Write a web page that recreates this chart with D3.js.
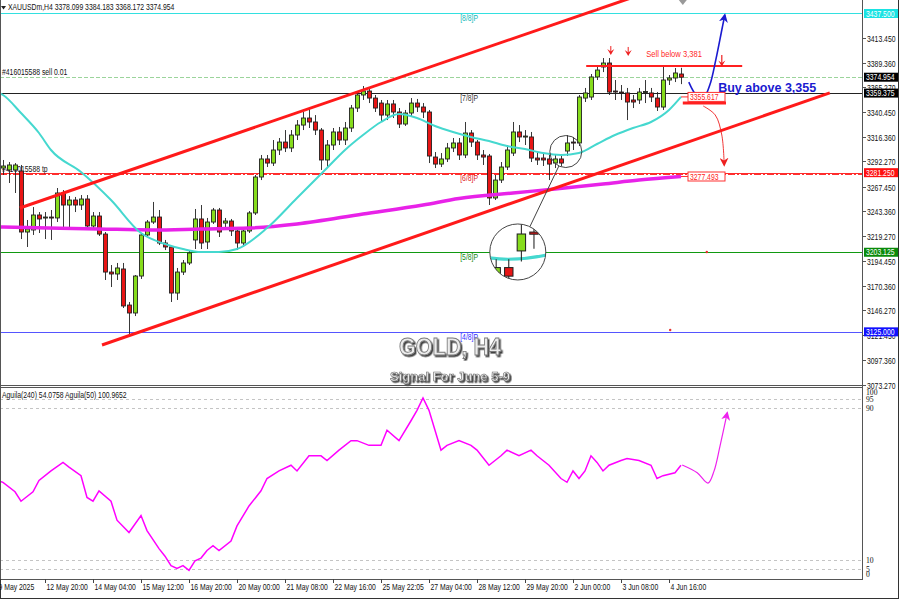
<!DOCTYPE html>
<html><head><meta charset="utf-8">
<script src="https://cdn.jsdelivr.net/npm/d3@7/dist/d3.min.js"></script>
<style>
html,body{margin:0;padding:0;background:#fff;}
svg{display:block;font-family:"Liberation Sans",Arial,sans-serif;}
</style></head><body>
<svg id="c" width="900" height="600"></svg>
<script>
// ---------------- DATA ----------------
const headerText = "XAUUSDm,H4  3378.099 3384.183 3368.172 3374.954";
const orderText = "#416015588 sell 0.01";
const tpText = "#416015588 tp";
const oscText = "Aguila(240) 54.0758  Aguila(50) 100.9652";
const titleText = "GOLD, H4";
const subtitleText = "Signal For June 5-9";
const sellText = "Sell below 3,381";
const buyText = "Buy above 3,355";

const barOpen = [3285.8,3283.9,3283.9,3282.9,3223.0,3225.0,3239.7,3236.8,3237.7,3236.8,3261.3,3249.5,3254.4,3249.5,3255.4,3228.9,3238.7,3221.0,3183.7,3181.8,3186.7,3151.3,3143.5,3179.8,3220.1,3232.8,3237.7,3212.2,3208.3,3163.1,3183.7,3192.6,3215.2,3235.8,3213.2,3232.8,3244.6,3231.8,3233.8,3224.0,3212.2,3224.0,3241.7,3277.0,3294.7,3290.7,3303.5,3311.3,3305.5,3318.2,3328.0,3334.9,3331.0,3323.1,3293.7,3308.4,3321.2,3313.3,3325.1,3344.7,3357.5,3361.4,3354.5,3349.6,3337.8,3348.7,3340.8,3329.0,3339.8,3349.6,3345.7,3340.8,3296.6,3289.7,3294.7,3305.5,3310.4,3298.6,3320.2,3311.3,3298.6,3297.6,3256.4,3274.0,3286.8,3300.5,3321.2,3316.3,3316.3,3295.6,3295.6,3294.7,3290.7,3294.7,3302.5,3311.3,3310.4,3354.5,3355.5,3375.2,3385.0,3388.9,3361.4,3360.4,3359.5,3352.6,3352.6,3360.4,3359.5,3354.5,3345.7,3372.2,3374.2,3378.099];
const barHigh = [3293.7,3291.7,3290.7,3288.8,3234.8,3247.5,3242.6,3242.6,3244.6,3266.2,3264.2,3258.3,3257.4,3259.3,3259.3,3242.6,3242.6,3223.0,3190.6,3192.6,3192.6,3154.3,3180.8,3222.0,3234.8,3252.5,3244.6,3215.2,3210.2,3187.7,3195.5,3205.3,3245.6,3249.5,3236.8,3246.6,3246.6,3236.8,3235.8,3226.0,3226.9,3243.6,3279.0,3298.6,3298.6,3313.3,3315.3,3323.1,3323.1,3332.9,3340.8,3344.7,3337.8,3325.1,3313.3,3325.1,3326.1,3331.0,3347.7,3360.4,3366.3,3364.4,3357.5,3352.6,3352.6,3352.6,3344.7,3342.8,3354.5,3353.6,3349.6,3342.8,3301.5,3300.5,3310.4,3315.3,3315.3,3331.0,3323.1,3313.3,3303.5,3299.6,3279.0,3291.7,3308.4,3331.0,3328.0,3323.1,3321.2,3301.5,3299.6,3299.6,3298.6,3298.6,3318.2,3316.3,3357.5,3364.4,3378.1,3386.0,3393.8,3393.8,3372.2,3367.3,3364.4,3357.5,3364.4,3372.2,3364.4,3360.4,3386.0,3377.1,3384.0,3384.183];
const barLow = [3279.0,3271.1,3261.3,3216.1,3208.3,3220.1,3222.0,3216.1,3215.2,3232.8,3226.0,3226.0,3242.6,3244.6,3226.9,3226.0,3219.1,3175.9,3169.0,3175.9,3148.4,3121.9,3140.5,3176.9,3218.1,3230.9,3210.2,3205.3,3154.3,3156.3,3180.8,3190.6,3206.3,3206.3,3206.3,3230.9,3218.1,3226.9,3219.1,3205.3,3208.3,3222.0,3239.7,3274.0,3286.8,3287.8,3298.6,3301.5,3301.5,3313.3,3323.1,3325.1,3318.2,3283.9,3285.8,3303.5,3308.4,3308.4,3321.2,3340.8,3352.6,3349.6,3340.8,3331.0,3332.9,3334.9,3325.1,3327.1,3336.9,3340.8,3334.9,3290.7,3285.8,3286.8,3291.7,3301.5,3293.7,3295.6,3306.5,3293.7,3288.8,3249.5,3254.4,3271.1,3283.9,3297.6,3311.3,3308.4,3291.7,3288.8,3287.8,3274.0,3285.8,3287.8,3297.6,3303.5,3307.4,3350.6,3352.6,3372.2,3380.0,3357.5,3352.6,3352.6,3332.9,3344.7,3348.7,3349.6,3350.6,3341.8,3342.8,3367.3,3370.2,3368.172];
const barClose = [3287.8,3288.8,3288.8,3223.0,3226.0,3239.7,3235.8,3237.7,3236.8,3261.3,3249.5,3254.4,3249.5,3255.4,3228.9,3238.7,3221.0,3183.7,3181.8,3187.7,3150.4,3143.5,3179.8,3220.1,3232.8,3237.7,3212.2,3208.3,3163.1,3183.7,3192.6,3202.4,3235.8,3212.2,3232.8,3244.6,3223.0,3233.8,3224.0,3212.2,3224.0,3241.7,3277.0,3294.7,3290.7,3303.5,3311.3,3305.5,3318.2,3328.0,3334.9,3331.0,3323.1,3293.7,3308.4,3321.2,3313.3,3325.1,3344.7,3357.5,3361.4,3354.5,3344.7,3337.8,3348.7,3340.8,3329.0,3339.8,3349.6,3345.7,3340.8,3297.6,3289.7,3294.7,3305.5,3310.4,3298.6,3320.2,3311.3,3298.6,3296.6,3256.4,3274.0,3286.8,3303.5,3321.2,3316.3,3317.2,3295.6,3293.7,3293.7,3289.7,3294.7,3290.7,3310.4,3310.4,3355.5,3359.5,3375.2,3382.0,3388.9,3360.4,3360.4,3359.5,3350.6,3350.6,3360.4,3360.9,3355.5,3345.7,3372.2,3374.2,3379.1,3374.954];

const timeTickBars = [-1,7,15,23,31,39,47,55,63,71,79,87,95,103,111];
const timeTickLabels = ["9 May 2025","12 May 20:00","14 May 04:00","15 May 12:00","16 May 20:00","20 May 00:00","21 May 08:00","22 May 16:00","25 May 22:05","27 May 04:00","28 May 12:00","29 May 20:00","2 Jun 00:00","3 Jun 08:00","4 Jun 16:00"];
const priceTicks = [3413.45,3389.36,3365.27,3340.45,3316.36,3292.27,3267.45,3243.36,3219.27,3194.45,3170.36,3146.27,3121.45,3097.36,3073.27];

const levelPrices = [3437.5,3359.375,3281.25,3203.125,3125.0];
const levelNames = ["[8/8]P","[7/8]P","[6/8]P","[5/8]P","[4/8]P"];
const markedPrices = [3437.5,3374.954,3359.375,3281.25,3203.125,3125.0];
const orderPrice = 3374.954;
const tpPrice = 3280.0;

const maFastBars =   [-1,0,3,6,8,13,18,23,27,30,33,36,39,44,49,54,57,60,63,66,69,72,75,78,81,84,87,90,93,96,99,102,105,108,111,113];
const maFastValues = [3360.4,3357.5,3339.8,3320.2,3303.5,3281.9,3254.4,3222.0,3211.2,3206.3,3203.4,3203.4,3206.3,3226.9,3256.4,3285.8,3303.5,3318.2,3331.0,3338.8,3334.9,3327.1,3321.2,3316.3,3312.3,3307.4,3304.5,3300.5,3298.6,3300.5,3309.4,3318.2,3325.1,3331.0,3342.8,3355.617];
const maSlowBars =   [-1,0,16,25,33,41,49,60,70,76,85,92,100,106,113];
const maSlowValues = [3228.0,3227.9,3226.0,3225.0,3226.0,3226.9,3230.9,3240.7,3249.5,3255.9,3261.3,3265.2,3270.1,3274.0,3277.493];

const channelUpper = [[2.8,3246.6],[108,3459.5]];
const channelLower = [[16.5,3112.1],[137.8,3359.5]];

const oscBars =   [-1,0,2,3,5,6,8,10,11,13,14,15,16,18,19,21,23,24,26,27,28,29,30,31,32,33,34,35,36,38,39,41,43,44,46,48,49,51,53,54,56,58,59,61,63,64,66,68,69,70,71,73,74,76,78,79,81,83,84,86,88,89,91,93,94,95,96,97,98,99,100,101,103,104,106,108,109,110,112,113];
const oscValues = [52,51,46,41,46,52,57,61.5,59,54.5,43,41,46.5,41,31,24.5,33.5,25.5,16,12,7,5.5,7,4.5,9.5,11,15,17.5,15,20,28,38.5,46.5,53,57,60,57,65,65,62.5,68,73,73,70.5,70.5,78.5,73,83.5,89,95.5,89,68,70.5,73,70.5,68,60,65,68,65,68,65,60,53,51,57,53,57,65,61.5,57,60,62.5,63.5,62.5,60,53,54.5,56,60];
const oscLevels = [95,90,10,5];
const oscLabelValues = [100,95,90,10,5,0];

// hand-drawn annotation paths (bar index, price / osc value)
const buyArrow = [[114.3,3370.2],[115.7,3356.5],[116.8,3355.5],[117.8,3367.3],[118.8,3391.9],[119.8,3421.3],[120.3,3436.0]];
const sellArrow = [[116.7,3346.7],[118.7,3337.9],[119.8,3318.2],[120.2,3288.8]];
const oscArrow = [[113.2,60.1],[115.7,56.0],[117.5,50.6],[118.5,56.9],[119.5,70.1],[120.7,87.6]];
const sellLine = [[97.2,3386.0],[123.2,3386.0]];
const supportLine = [[113.3,3349.6],[120.5,3349.6]];
const downMarks = [[101.3,3397.7],[104.2,3396.8]];
const stemMark = [[119.8,3396.8],[119.8,3386.5]];
const tradeMarks = [[111.2,3126.8],[117.3,3203.4]];

// ---------------- SCALES ----------------
const svg = d3.select("#c");
const plotR = 862, mainB = 386, indT = 388, indB = 579;
const x = d3.scaleLinear().domain([0,113]).range([3,681]);
const y = d3.scaleLinear().domain([3071.84,3450.75]).range([mainB,0]);
const yi = d3.scaleLinear().domain([0,100]).range([578.9,389.5]);

const defs = svg.append("defs");
defs.append("clipPath").attr("id","clipMain").append("rect").attr("x",0).attr("y",0).attr("width",plotR).attr("height",mainB);
defs.append("clipPath").attr("id","clipInd").append("rect").attr("x",0).attr("y",indT).attr("width",plotR).attr("height",indB-indT);
const f = defs.append("filter").attr("id","shadow").attr("x","-10%").attr("y","-20%").attr("width","130%").attr("height","160%");
f.append("feDropShadow").attr("dx",1.6).attr("dy",1.6).attr("stdDeviation",0.7).attr("flood-color","#222").attr("flood-opacity",0.85);
function marker(id,color){
  defs.append("marker").attr("id",id).attr("viewBox","0 0 10 10").attr("refX",8).attr("refY",5)
    .attr("markerWidth",9).attr("markerHeight",9).attr("markerUnits","userSpaceOnUse").attr("orient","auto")
    .append("path").attr("d","M0,0 L10,5 L0,10 L3,5 Z").attr("fill",color);
}
marker("ahBlue","#1a1ad0"); marker("ahRed","#ee2020"); marker("ahMag","#ee22ee");

function stext(g, px, py, str, o={}){
  return g.append("text").attr("transform",`translate(${px},${py}) scale(${o.sx||0.76},1)`)
    .attr("font-size",o.size||9).attr("fill",o.fill||"#111").attr("font-weight",o.weight||"normal")
    .attr("text-anchor",o.anchor||"start").attr("font-family",o.family||null).text(str);
}

svg.append("rect").attr("width",900).attr("height",600).attr("fill","#fff");

// ---------------- MAIN PANEL ----------------
const main = svg.append("g").attr("clip-path","url(#clipMain)");
const levelColors = ["#33e0e0","#222","#ff2a2a","#119911","#5555ff"];
const levelTextColors = ["#10b8b8","#333","#e02020","#118811","#3030ff"];
levelPrices.forEach((p,i)=>{
  main.append("line").attr("x1",0).attr("x2",plotR).attr("y1",Math.round(y(p))+0.5).attr("y2",Math.round(y(p))+0.5)
    .attr("stroke",levelColors[i]).attr("stroke-width",1);
  stext(main, x(76.2), Math.round(y(p))+8, levelNames[i], {fill:levelTextColors[i], size:9});
});
// order line & tp line
main.append("line").attr("x1",0).attr("x2",plotR).attr("y1",Math.round(y(orderPrice))+0.5).attr("y2",Math.round(y(orderPrice))+0.5)
  .attr("stroke","#9bd49b").attr("stroke-dasharray","4,2");
main.append("line").attr("x1",0).attr("x2",plotR).attr("y1",Math.round(y(tpPrice))+0.5).attr("y2",Math.round(y(tpPrice))+0.5)
  .attr("stroke","#ff3030").attr("stroke-dasharray","7,2,2,2");
stext(main, 2, Math.round(y(orderPrice))-2, orderText, {size:9});
stext(main, 2, Math.round(y(tpPrice))-2, tpText, {size:9});

// candles
function drawCandles(g, idx, sw){
  idx.forEach(i=>{
    const up = barClose[i] >= barOpen[i];
    const cx = Math.round(x(i))+0.5;
    g.append("line").attr("x1",cx).attr("x2",cx).attr("y1",y(barHigh[i])).attr("y2",y(barLow[i]))
      .attr("stroke","#222").attr("stroke-width",sw);
    const top = y(Math.max(barOpen[i],barClose[i])), bot = y(Math.min(barOpen[i],barClose[i]));
    g.append("rect").attr("x",cx-2).attr("width",4).attr("y",top).attr("height",Math.max(1,bot-top))
      .attr("fill", up ? "#86dc1c" : "#e81515").attr("stroke","#222").attr("stroke-width",sw);
  });
}
const allIdx = d3.range(barOpen.length);
drawCandles(main, allIdx, 0.9);

// moving averages
const lineGen = d3.line().x(d=>x(d[0])).y(d=>y(d[1])).curve(d3.curveMonotoneX);
const fastPts = maFastBars.map((b,i)=>[b,maFastValues[i]]);
const slowPts = maSlowBars.map((b,i)=>[b,maSlowValues[i]]);
main.append("path").attr("d",lineGen(slowPts)).attr("fill","none").attr("stroke","#e822e8").attr("stroke-width",3.5);
main.append("path").attr("d",lineGen(fastPts)).attr("fill","none").attr("stroke","#45d8cf").attr("stroke-width",2);

// channel
const straight = d3.line().x(d=>x(d[0])).y(d=>y(d[1]));
main.append("path").attr("d",straight(channelUpper)).attr("stroke","#ff1a1a").attr("stroke-width",3).attr("fill","none");
main.append("path").attr("d",straight(channelLower)).attr("stroke","#ff1a1a").attr("stroke-width",3).attr("fill","none");

// annotations
main.append("path").attr("d",straight(sellLine)).attr("stroke","#ff2020").attr("stroke-width",2).attr("fill","none");
main.append("path").attr("d",straight(supportLine)).attr("stroke","#ff2020").attr("stroke-width",3).attr("fill","none");
stext(main, x(107.2), y(3386.0)-9, sellText, {fill:"#ff2a2a", size:9.5, sx:0.8});
stext(main, x(119.2), Math.round(y(3359.375))-1, buyText, {fill:"#1a1ad0", size:12.5, weight:"bold", sx:1});
const curve = d3.line().x(d=>x(d[0])).y(d=>y(d[1])).curve(d3.curveCatmullRom);
main.append("path").attr("d",curve(buyArrow)).attr("fill","none").attr("stroke","#1a1ad0").attr("stroke-width",1.6).attr("marker-end","url(#ahBlue)");
main.append("path").attr("d",curve(sellArrow)).attr("fill","none").attr("stroke","#ee2020").attr("stroke-width",0.9).attr("marker-end","url(#ahRed)");
downMarks.forEach(d=>{
  const cx=x(d[0]), cy=y(d[1]);
  main.append("path").attr("d",`M${cx-3.5},${cy-5} L${cx},${cy+1} L${cx+3.5},${cy-5} L${cx},${cy-2.5} Z`).attr("fill","#ee2020");
  main.append("line").attr("x1",cx).attr("x2",cx).attr("y1",cy-8).attr("y2",cy-2).attr("stroke","#ee2020").attr("stroke-width",1);
});
{
  const cx=x(stemMark[0][0]), y1=y(stemMark[0][1]), y2=y(stemMark[1][1]);
  main.append("line").attr("x1",cx).attr("x2",cx).attr("y1",y1).attr("y2",y2).attr("stroke","#ee2020").attr("stroke-width",1.2);
  main.append("path").attr("d",`M${cx-3.5},${y2-5} L${cx},${y2+1} L${cx+3.5},${y2-5} L${cx},${y2-2.5} Z`).attr("fill","#ee2020");
}
tradeMarks.forEach(d=>{
  main.append("circle").attr("cx",x(d[0])).attr("cy",y(d[1])).attr("r",1.2).attr("fill","#e83030");
});
// MA value boxes
function valueBox(bar, price){
  const bx = x(bar)+7, by = y(price);
  main.append("line").attr("x1",x(bar)).attr("x2",bx).attr("y1",by).attr("y2",by).attr("stroke","#ff3030");
  main.append("rect").attr("x",bx).attr("y",by-4.5).attr("width",37).attr("height",9).attr("fill","#fff").attr("stroke","#ff3030");
  stext(main, bx+2, by+3.2, price.toFixed(3), {fill:"#ff2020", size:9});
}
valueBox(113, maFastValues[maFastValues.length-1]);
valueBox(113, maSlowValues[maSlowValues.length-1]);

// magnifier
const smallC = [93.8, 3302.0], bigC = [85.8, 3203.4], zoomK = 2.1, rSmall = 16, rBig = 28;
const sx0 = x(smallC[0]), sy0 = y(smallC[1]), bx0 = x(bigC[0]), by0 = y(bigC[1]);
main.append("circle").attr("cx",sx0).attr("cy",sy0).attr("r",rSmall).attr("fill","none").attr("stroke","#444").attr("stroke-width",1);
{
  const dx = bx0-sx0, dy = by0-sy0, L = Math.hypot(dx,dy);
  main.append("line").attr("x1",sx0+dx/L*rSmall).attr("y1",sy0+dy/L*rSmall).attr("x2",bx0-dx/L*rBig).attr("y2",by0-dy/L*rBig)
    .attr("stroke","#444").attr("stroke-width",1);
}
defs.append("clipPath").attr("id","clipMag").append("circle").attr("cx",bx0).attr("cy",by0).attr("r",rBig);
main.append("circle").attr("cx",bx0).attr("cy",by0).attr("r",rBig).attr("fill","#fff");
const mag = main.append("g").attr("clip-path","url(#clipMag)")
  .append("g").attr("transform",`translate(${bx0},${by0}) scale(${zoomK}) translate(${-sx0},${-sy0})`);
mag.append("path").attr("d",lineGen(fastPts)).attr("fill","none").attr("stroke","#45d8cf").attr("stroke-width",1.5);
drawCandles(mag, d3.range(89,98), 0.5);
main.append("circle").attr("cx",bx0).attr("cy",by0).attr("r",rBig).attr("fill","none").attr("stroke","#444").attr("stroke-width",1);

// title
svg.append("text").attr("transform","translate(450,355) scale(0.9,1)").attr("text-anchor","middle")
  .attr("font-size",24).attr("font-weight","bold").attr("fill","#ececec").attr("stroke","#7a7a7a").attr("stroke-width",0.9)
  .attr("filter","url(#shadow)").attr("font-family","Liberation Sans, Arial, sans-serif").text(titleText);
svg.append("text").attr("transform","translate(450,381)").attr("text-anchor","middle")
  .attr("font-size",13).attr("font-weight","bold").attr("fill","#ededed").attr("stroke","#6a6a6a").attr("stroke-width",0.6)
  .attr("filter","url(#shadow)").text(subtitleText);

// header
svg.append("path").attr("d","M1,6 L6,6 L3.5,9.5 Z").attr("fill","#222");
stext(svg, 8, 10, headerText, {size:9});
// chart shift marker
svg.append("path").attr("d",`M${x(113.3)-4},0 L${x(113.3)+4},0 L${x(113.3)},5 Z`).attr("fill","#999");

// ---------------- INDICATOR PANEL ----------------
const ind = svg.append("g").attr("clip-path","url(#clipInd)");
oscLevels.forEach(v=>{
  ind.append("line").attr("x1",0).attr("x2",plotR).attr("y1",Math.round(yi(v))+0.5).attr("y2",Math.round(yi(v))+0.5)
    .attr("stroke","#c4c4c4").attr("stroke-dasharray","3,3");
});
const oscLine = d3.line().x(d=>x(d[0])).y(d=>yi(d[1]));
ind.append("path").attr("d",oscLine(oscBars.map((b,i)=>[b,oscValues[i]]))).attr("fill","none").attr("stroke","#ff00ff").attr("stroke-width",1.5);
ind.append("path").attr("d",oscLine.curve(d3.curveCatmullRom)(oscArrow)).attr("fill","none").attr("stroke","#ee22ee").attr("stroke-width",1.2).attr("marker-end","url(#ahMag)");
stext(svg, 2, 398, oscText, {size:9});
oscLabelValues.forEach(v=>{
  const py = Math.max(395, Math.min(577, yi(v)+3));
  stext(svg, 866, py, String(v), {size:9, family:"Liberation Serif, serif", sx:0.85});
});

// ---------------- AXES & FRAMES ----------------
svg.append("line").attr("x1",plotR+0.5).attr("x2",plotR+0.5).attr("y1",0).attr("y2",indB).attr("stroke","#555");
svg.append("line").attr("x1",0).attr("x2",plotR).attr("y1",mainB-0.5).attr("y2",mainB-0.5).attr("stroke","#555");
svg.append("line").attr("x1",0).attr("x2",plotR).attr("y1",indT-0.5).attr("y2",indT-0.5).attr("stroke","#555");
svg.append("line").attr("x1",0).attr("x2",plotR+1).attr("y1",indB+0.5).attr("y2",indB+0.5).attr("stroke","#555");
svg.append("line").attr("x1",0.5).attr("x2",0.5).attr("y1",0).attr("y2",indB).attr("stroke","#555");
// outer frame
svg.append("line").attr("x1",898.5).attr("x2",898.5).attr("y1",0).attr("y2",599).attr("stroke","#333");
svg.append("line").attr("x1",0).attr("x2",899).attr("y1",598.5).attr("y2",598.5).attr("stroke","#333");
svg.append("line").attr("x1",0.5).attr("x2",0.5).attr("y1",indB).attr("y2",599).attr("stroke","#333");

// price ticks
priceTicks.forEach(p=>{
  const py = Math.round(y(p))+0.5;
  svg.append("line").attr("x1",plotR).attr("x2",plotR+4).attr("y1",py).attr("y2",py).attr("stroke","#555");
  stext(svg, 867, py+3, p.toFixed(3), {size:9});
});
const boxFills = ["#19e3e3","#000","#000","#ff1010","#0a8a0a","#1010ff"];
markedPrices.forEach((p,i)=>{
  const py = y(p);
  svg.append("rect").attr("x",plotR+2).attr("y",py-4.5).attr("width",34).attr("height",9).attr("fill",boxFills[i]);
  stext(svg, 866, py+3.2, p.toFixed(3), {size:9, fill:"#fff"});
});
// time ticks
timeTickBars.forEach((b,i)=>{
  const px = Math.round(x(b))+0.5;
  svg.append("line").attr("x1",px).attr("x2",px).attr("y1",indB).attr("y2",indB+4).attr("stroke","#444");
  stext(svg, px+1, 590, timeTickLabels[i], {size:9});
});
</script>
</body></html>
